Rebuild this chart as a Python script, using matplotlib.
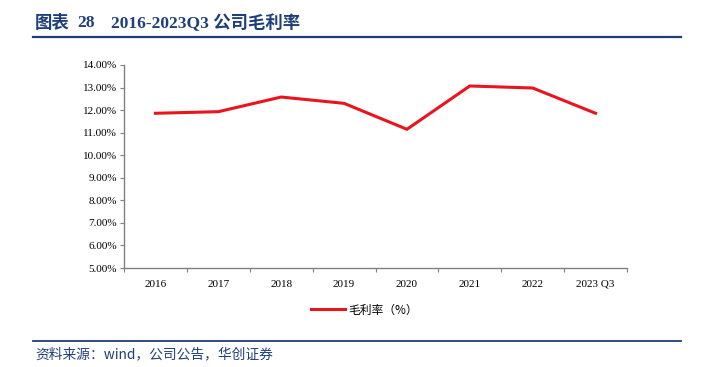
import matplotlib
matplotlib.use("Agg")
import matplotlib.pyplot as plt
from matplotlib.lines import Line2D
from matplotlib.ticker import FixedLocator, NullFormatter, FixedFormatter

categories = ["2016", "2017", "2018", "2019", "2020", "2021", "2022", "2023 Q3"]
gross_margin = [11.86, 11.93, 12.58, 12.30, 11.15, 13.07, 12.98, 11.86]
yticks = [5, 6, 7, 8, 9, 10, 11, 12, 13, 14]

SERIF = ["Liberation Serif", "Noto Sans CJK SC"]
CJK = ["Noto Sans CJK SC", "DejaVu Sans"]
BLUE = "#1f3f7a"
RED = "#e8141e"

W, H = 708, 367
fig = plt.figure(figsize=(W / 100, H / 100), dpi=100)
ax = fig.add_axes([124 / W, 1 - 268 / H, (627 - 124) / W, (268 - 65) / H])

x = list(range(len(categories)))
ax.plot(x, gross_margin, color=RED, lw=2.2, solid_joinstyle="miter")
ax.set_xlim(-0.5, len(categories) - 0.5)
ax.set_ylim(5, 14)

ax.yaxis.set_major_locator(FixedLocator(yticks))
ax.set_yticklabels([f"{v:.2f}%" for v in yticks], fontfamily=SERIF, fontsize=8)
ax.xaxis.set_major_locator(FixedLocator([i - 0.5 for i in range(len(categories) + 1)]))
ax.xaxis.set_major_formatter(NullFormatter())
ax.xaxis.set_minor_locator(FixedLocator(x))
ax.xaxis.set_minor_formatter(FixedFormatter(categories))
ax.tick_params(axis="x", which="minor", length=0, pad=13.5)
for lab in ax.get_xticklabels(minor=True):
    lab.set_fontfamily(SERIF)
    lab.set_fontsize(8)
    lab.set_verticalalignment("baseline")
ax.tick_params(axis="x", which="major", length=3, color="#808080")
ax.tick_params(axis="y", length=3, color="#808080", pad=2)
for s in ["top", "right"]:
    ax.spines[s].set_visible(False)
for s in ["left", "bottom"]:
    ax.spines[s].set_color("#808080")
    ax.spines[s].set_linewidth(1.0)

handle = Line2D([], [], color=RED, lw=2.2)
fig.legend([handle], ["毛利率（%）"], loc="center left", bbox_to_anchor=(300 / W, 1 - 310 / H),
           frameon=False, prop={"family": CJK, "size": 8.5}, handlelength=2.9, handletextpad=0.25)

# title and rules
ty = 1 - 23 / H
fig.text(35 / W, ty, "图表", fontfamily=CJK, fontweight="bold", fontsize=12.5,
         color=BLUE, va="center", ha="left")
fig.text(77 / W, ty, "28", fontfamily=SERIF, fontweight="bold", fontsize=12.5,
         color=BLUE, va="center", ha="left")
fig.text(111 / W, ty, "2016-2023Q3 公司毛利率", fontfamily=SERIF, fontweight="bold",
         fontsize=12.5, color=BLUE, va="center", ha="left")
fig.add_artist(Line2D([33 / W, 681 / W], [1 - 36.7 / H, 1 - 36.7 / H], color=BLUE, lw=1.6))
fig.add_artist(Line2D([33 / W, 681 / W], [1 - 340.5 / H, 1 - 340.5 / H], color=BLUE, lw=1.3))
fig.text(35 / W, 1 - 354 / H, "资料来源：wind，公司公告，华创证券", fontfamily=CJK,
         fontstyle="italic", fontsize=9.9, color=BLUE, va="center", ha="left")

fig.savefig("out.png", dpi=100)
